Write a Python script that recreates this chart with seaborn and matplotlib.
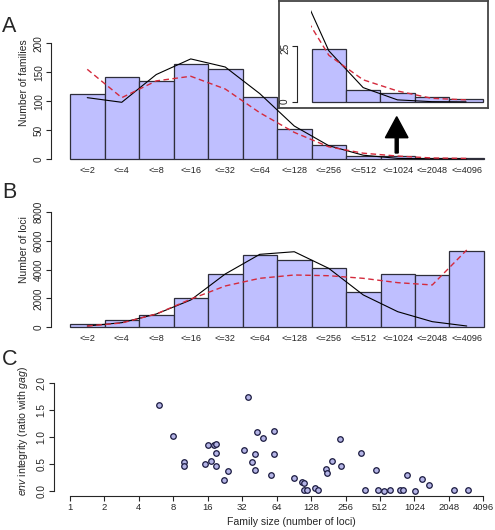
import numpy as np
import pandas as pd
import seaborn as sns
import matplotlib.pyplot as plt
from matplotlib.patches import FancyArrow

# family size classes (bars in A and B)
size_labels = ['<=2', '<=4', '<=8', '<=16', '<=32', '<=64', '<=128',
               '<=256', '<=512', '<=1024', '<=2048', '<=4096']

# A: number of families per size class + two fitted curves
families = [113, 141, 134, 164, 156, 108, 51, 24, 5.5, 4.3, 2.4, 1.3]
families_black = [106, 98, 146, 173, 159, 113, 57, 23, 6.5, 1.0, 0.2, 0.1]
families_red = [155, 106, 135, 143, 121, 80, 46, 21, 10, 5, 1.7, 1.0]

# B: number of loci per size class + two fitted curves
loci = [230, 505, 850, 2000, 3660, 5000, 4660, 4130, 2420, 3660, 3600, 5260]
loci_black = [90, 320, 920, 1890, 3690, 5050, 5230, 4080, 2240, 1080, 390, 90]
loci_red = [90, 300, 920, 1950, 2860, 3390, 3620, 3570, 3390, 3090, 2930, 5350]

# C: env integrity vs family size
fam_size = [6, 8, 10, 10, 15, 16, 17, 18, 19, 19, 19, 22, 24, 33, 36, 43, 49,
            61, 61, 41, 39, 41, 57, 91, 106, 112, 112, 118, 139, 146, 174, 177,
            196, 229, 235, 347, 377, 475, 496, 559, 630, 771, 808, 884, 1045,
            1193, 1370, 2270, 3020]
env_ratio = [1.60, 1.02, 0.54, 0.47, 0.50, 0.85, 0.56, 0.86, 0.88, 0.71, 0.46,
             0.21, 0.37, 0.76, 1.75, 1.09, 0.99, 1.11, 0.69, 0.69, 0.54, 0.39,
             0.30, 0.25, 0.16, 0.15, 0.02, 0.02, 0.06, 0.02, 0.40, 0.33, 0.56,
             0.97, 0.46, 0.71, 0.01, 0.39, 0.01, 0.0, 0.01, 0.01, 0.01, 0.30,
             0.0, 0.22, 0.11, 0.02, 0.01]

sns.set_style('ticks')
plt.rcParams['font.family'] = ['Liberation Sans', 'DejaVu Sans']
plt.rcParams['mathtext.fontset'] = 'custom'
plt.rcParams['mathtext.rm'] = 'Liberation Sans'
plt.rcParams['mathtext.it'] = 'Liberation Sans:italic'

BAR = '#BFBFFF'
EDGE = '#2E2E3A'
RED = '#D42A3C'
W, H = 495, 530


def box(l, t, r, b):
    return [l / W, 1 - b / H, (r - l) / W, (b - t) / H]


def r_axis(ax, lo, hi):
    # R-like axis: only a left line between lo and hi, rotated labels
    for s in ['top', 'right', 'bottom']:
        ax.spines[s].set_visible(False)
    ax.spines['left'].set_bounds(lo, hi)
    ax.spines['left'].set_linewidth(0.8)
    ax.tick_params(axis='y', length=3.6, width=0.8, labelsize=7.2, pad=1.5,
                   labelrotation=90)
    for lab in ax.get_yticklabels():
        lab.set_va('center')


def hist(ax, idx, counts, black, red):
    sns.barplot(x=idx, y=counts, native_scale=True, width=1, orient='x',
                color=BAR, saturation=1, edgecolor=EDGE, linewidth=0.9,
                errorbar=None, ax=ax)
    sns.lineplot(x=idx, y=black, color='black', lw=0.8, ax=ax)
    sns.lineplot(x=idx, y=red, color=RED, lw=1.0, linestyle=(0, (4, 2.5)), ax=ax)
    ax.set_xlabel('')
    ax.set_ylabel('')


fig = plt.figure(figsize=(4.95, 5.3), dpi=100)
pos = np.arange(len(size_labels))

# Panel A
axA = fig.add_axes(box(51, 40, 490, 163.6))
hist(axA, pos, families, families_black, families_red)
axA.set_xlim(-1.051, 11.674)
axA.set_ylim(-8, 205.7)
axA.set_yticks([0, 50, 100, 150, 200])
axA.set_xticks(pos, size_labels)
axA.tick_params(axis='x', length=0, labelsize=6.6, pad=1.5)
r_axis(axA, 0, 200)

# Panel B
axB = fig.add_axes(box(51, 200, 490, 332))
hist(axB, pos, loci, loci_black, loci_red)
axB.set_xlim(-1.051, 11.674)
axB.set_ylim(-325, 8810)
axB.set_yticks([0, 2000, 4000, 6000, 8000])
axB.set_xticks(pos, size_labels)
axB.tick_params(axis='x', length=0, labelsize=6.6, pad=1.5)
r_axis(axB, 0, 8000)

# inset of A (tail of the distribution)
frame = fig.add_axes(box(279, 1, 488, 108))
frame.set_xticks([])
frame.set_yticks([])
frame.set_facecolor('white')
for s in frame.spines.values():
    s.set_linewidth(1.3)
    s.set_color('#444444')

axI = fig.add_axes(box(311, 2, 487, 107))
axI.patch.set_alpha(0)
hist(axI, pos[6:], families[6:], families_black[6:], families_red[6:])
axI.patches[0].set_visible(False)
axI.set_xlim(6.48, 11.61)
axI.set_ylim(-2.2, 44.9)
axI.set_xticks([])
axI.set_yticks([0, 25])
r_axis(axI, 0, 25)
axI.spines['left'].set_position(('outward', 10))

# Panel C
axC = fig.add_axes(box(53.5, 379, 495, 495.5))
sns.scatterplot(x=fam_size, y=env_ratio, s=16, color='#B4B4E6',
                edgecolor='#1A1A40', linewidth=0.9, ax=axC)
axC.set_xscale('log', base=2)
axC.set_xlim(2 ** -0.479, 2 ** 12.34)
axC.set_ylim(-0.084, 2.08)
ticks = [2 ** i for i in range(13)]
axC.set_xticks(ticks, [str(t) for t in ticks])
axC.minorticks_off()
axC.set_yticks([0, 0.5, 1.0, 1.5, 2.0], ['0.0', '0.5', '1.0', '1.5', '2.0'])
r_axis(axC, 0, 2)
axC.spines['bottom'].set_visible(True)
axC.spines['bottom'].set_bounds(1, 4096)
axC.spines['bottom'].set_linewidth(0.8)
axC.tick_params(axis='x', length=3.6, width=0.8, labelsize=6.8, pad=1.5)

# overlay in pixel coordinates for labels and arrow
ov = fig.add_axes([0, 0, 1, 1])
ov.set_xlim(0, W)
ov.set_ylim(H, 0)
ov.axis('off')
ov.patch.set_alpha(0)
ov.add_patch(FancyArrow(396.7, 153, 0, -36.3, width=3, head_width=22.6,
                        head_length=21, length_includes_head=True,
                        color='black'))

ov.text(2, 32, 'A', fontsize=15.5)
ov.text(2, 198, 'B', fontsize=15.5)
ov.text(2, 365, 'C', fontsize=15.5)
ov.text(24, 83, 'Number of families', rotation=90, ha='center', va='center',
        fontsize=7.5)
ov.text(24, 250, 'Number of loci', rotation=90, ha='center', va='center',
        fontsize=7.5)
ov.text(23, 431, r'$\it{env}$ integrity (ratio with $\it{gag}$)', rotation=90,
        ha='center', va='center', fontsize=7.6)
ov.text(291, 522, 'Family size (number of loci)', ha='center', va='center',
        fontsize=7.6)

plt.savefig('out.png', dpi=100)
